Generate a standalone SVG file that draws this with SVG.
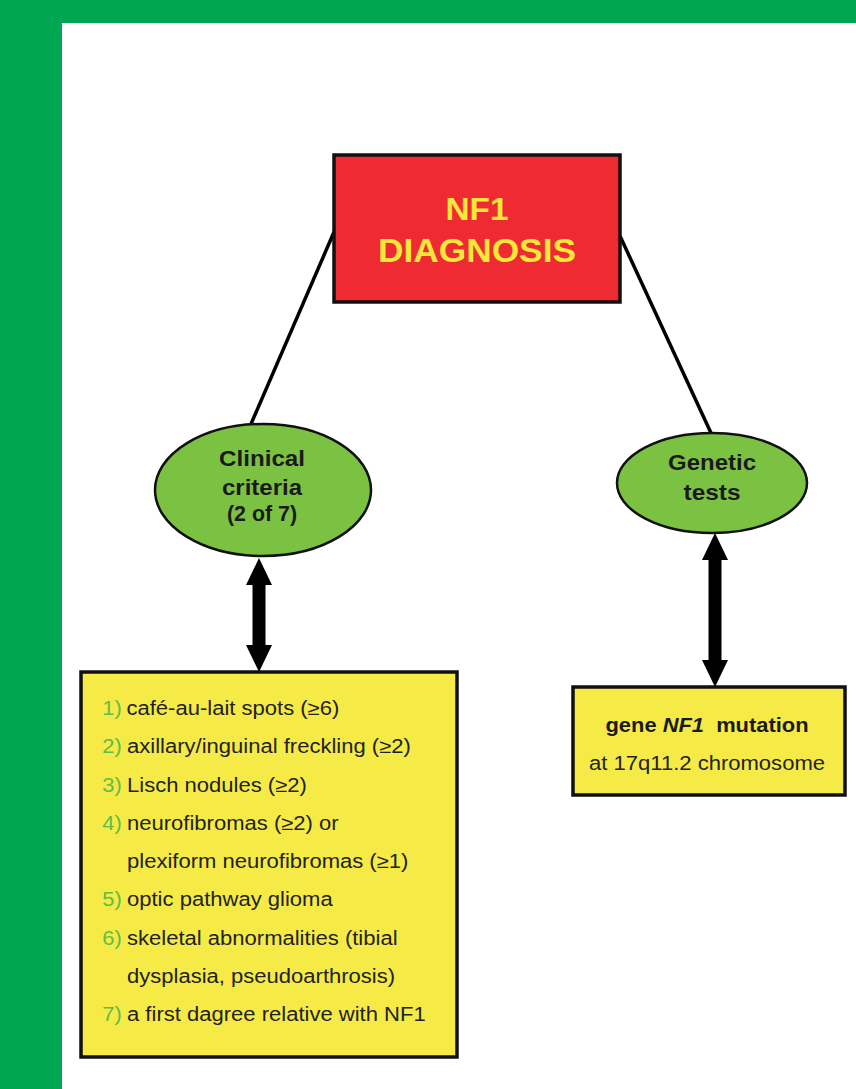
<svg xmlns="http://www.w3.org/2000/svg" width="856" height="1089" viewBox="0 0 856 1089">
  <style>
    .lbl { font-family: "Liberation Sans", Arial, sans-serif; }
    .box { stroke: #111; stroke-width: 3.5; }
    .ell { fill: #7CC242; stroke: #111; stroke-width: 2.5; }
    .eltx { font-family: "Liberation Sans", Arial, sans-serif; font-weight: bold; font-size: 22px; fill: #1a1a1a; text-anchor: middle; }
    .item { font-family: "Liberation Sans", Arial, sans-serif; font-size: 19.5px; fill: #222; }
    .num { fill: #62BC47; }
    .conn { stroke: #000; fill: none; }
  </style>
  <defs>
    <marker id="head" viewBox="0 0 27 26" markerUnits="userSpaceOnUse" markerWidth="27" markerHeight="26" refX="5" refY="13" orient="auto-start-reverse">
      <path d="M0,0 L27,13 L0,26 Z" fill="#000"/>
    </marker>
  </defs>

  <rect x="0" y="0" width="856" height="1089" fill="#00A651"/>
  <rect x="62" y="23" width="794" height="1066" fill="#FFFFFF"/>

  <g id="connectors">
    <line class="conn" x1="334" y1="232" x2="251" y2="424" stroke-width="3.5"/>
    <line class="conn" x1="620" y1="236" x2="711" y2="433" stroke-width="3.5"/>
    <line class="conn" x1="259" y1="580" x2="259" y2="650" stroke-width="13" marker-start="url(#head)" marker-end="url(#head)"/>
    <line class="conn" x1="715" y1="555" x2="715" y2="665" stroke-width="13" marker-start="url(#head)" marker-end="url(#head)"/>
  </g>

  <g id="nf1-diagnosis">
    <rect class="box" x="334" y="155" width="286" height="147" fill="#EE2B32"/>
    <text class="lbl" x="477" y="220" font-size="32" font-weight="bold" fill="#F6E73A" text-anchor="middle" textLength="63" lengthAdjust="spacingAndGlyphs">NF1</text>
    <text class="lbl" x="477" y="262" font-size="33" font-weight="bold" fill="#F6E73A" text-anchor="middle" textLength="198" lengthAdjust="spacingAndGlyphs">DIAGNOSIS</text>
  </g>

  <g id="clinical-criteria">
    <ellipse class="ell" cx="263" cy="490" rx="108" ry="66"/>
    <text class="eltx" x="262" y="466" textLength="86" lengthAdjust="spacingAndGlyphs">Clinical</text>
    <text class="eltx" x="262" y="495" textLength="80" lengthAdjust="spacingAndGlyphs">criteria</text>
    <text class="eltx" x="262" y="521" font-size="20" textLength="70" lengthAdjust="spacingAndGlyphs">(2 of 7)</text>
  </g>

  <g id="genetic-tests">
    <ellipse class="ell" cx="712" cy="483" rx="95" ry="50"/>
    <text class="eltx" x="712" y="470" textLength="88" lengthAdjust="spacingAndGlyphs">Genetic</text>
    <text class="eltx" x="712" y="500" textLength="57" lengthAdjust="spacingAndGlyphs">tests</text>
  </g>

  <g id="criteria-list">
    <rect class="box" x="81" y="672" width="376" height="385" fill="#F6EB46"/>
    <g transform="translate(127,0) scale(1.13,1)">
      <text class="item" x="-22" y="715"><tspan class="num">1)</tspan></text>
      <text class="item" x="-0.5" y="715">café-au-lait spots (≥6)</text>
      <text class="item" x="-22" y="753.3"><tspan class="num">2)</tspan></text>
      <text class="item" x="0" y="753.3">axillary/inguinal freckling (≥2)</text>
      <text class="item" x="-22" y="791.6"><tspan class="num">3)</tspan></text>
      <text class="item" x="0" y="791.6">Lisch nodules (≥2)</text>
      <text class="item" x="-22" y="829.9"><tspan class="num">4)</tspan></text>
      <text class="item" x="0" y="829.9">neurofibromas (≥2) or</text>
      <text class="item" x="0" y="868.2">plexiform neurofibromas (≥1)</text>
      <text class="item" x="-22" y="906.5"><tspan class="num">5)</tspan></text>
      <text class="item" x="0" y="906.5">optic pathway glioma</text>
      <text class="item" x="-22" y="944.8"><tspan class="num">6)</tspan></text>
      <text class="item" x="0" y="944.8">skeletal abnormalities (tibial</text>
      <text class="item" x="0" y="983.1">dysplasia, pseudoarthrosis)</text>
      <text class="item" x="-22" y="1021.4"><tspan class="num">7)</tspan></text>
      <text class="item" x="0" y="1021.4">a first dagree relative with NF1</text>
    </g>
  </g>

  <g id="gene-mutation">
    <rect class="box" x="573" y="687" width="272" height="108" fill="#F6EB46"/>
    <text class="lbl" x="707" y="732" font-size="20" font-weight="bold" fill="#1a1a1a" text-anchor="middle" style="white-space:pre" textLength="203" lengthAdjust="spacingAndGlyphs">gene <tspan font-style="italic">NF1</tspan>  mutation</text>
    <text class="lbl" x="707" y="770" font-size="20" fill="#222" text-anchor="middle" textLength="236" lengthAdjust="spacingAndGlyphs">at 17q11.2 chromosome</text>
  </g>
</svg>
